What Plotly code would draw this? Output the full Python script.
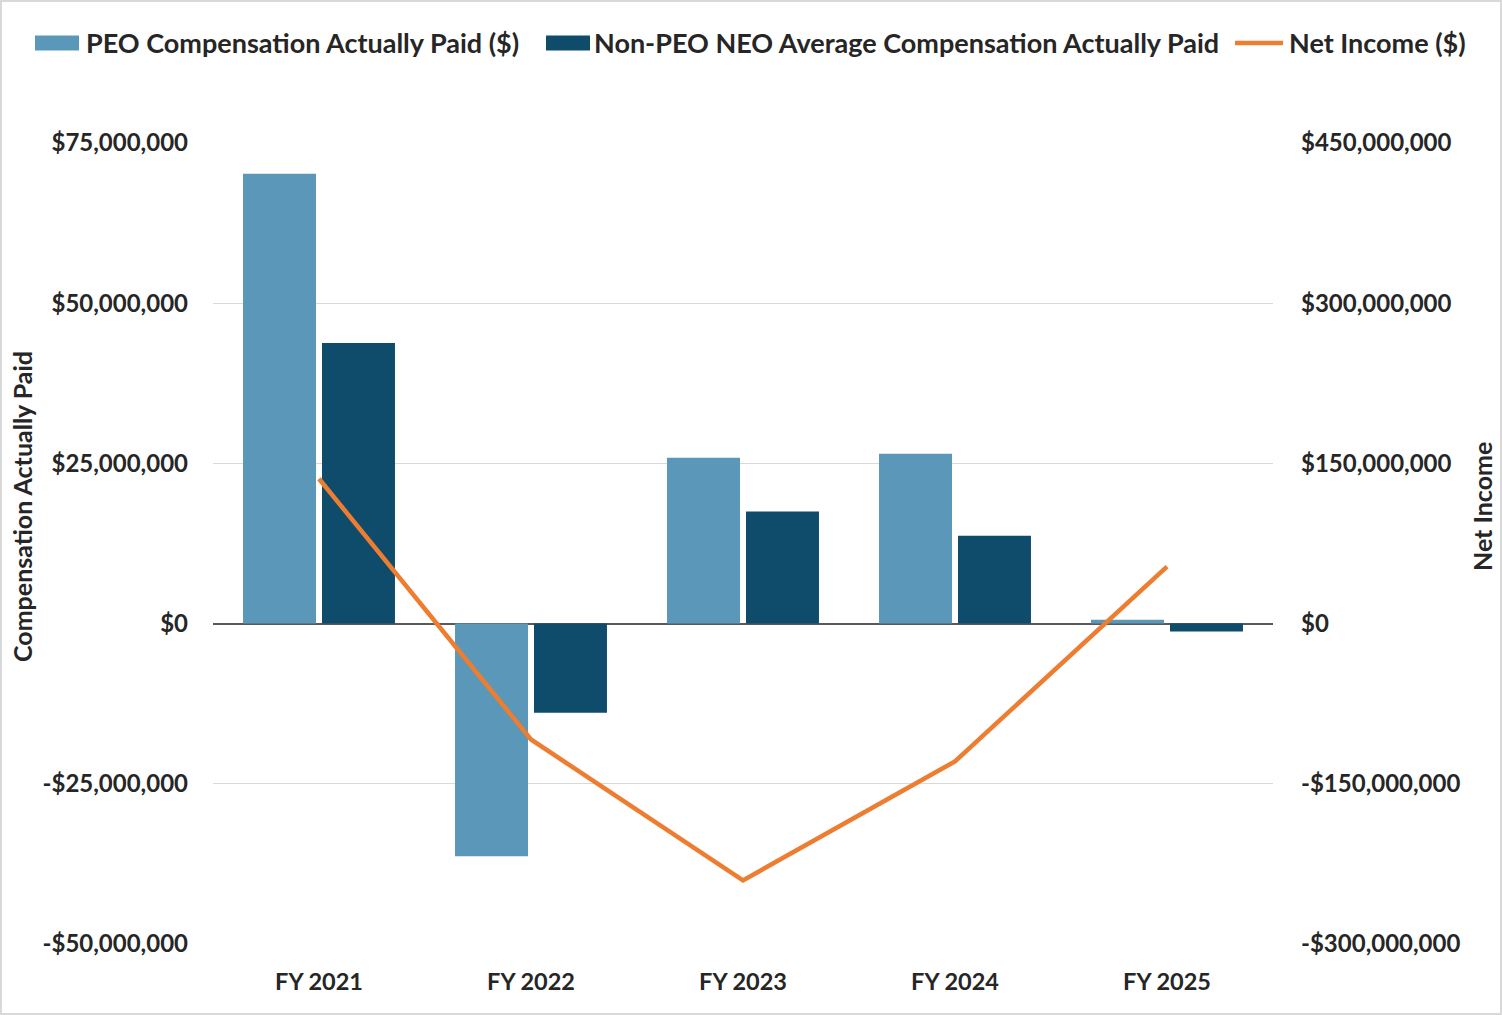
import plotly.graph_objects as go

years = ["FY 2021", "FY 2022", "FY 2023", "FY 2024", "FY 2025"]
peo_cap = [70_200_000, -36_300_000, 25_900_000, 26_500_000, 600_000]
non_peo_cap = [43_800_000, -13_900_000, 17_500_000, 13_700_000, -1_250_000]
net_income = [135_600_000, -108_500_000, -240_400_000, -129_000_000, 53_300_000]

left_ticks = [-50_000_000, -25_000_000, 0, 25_000_000, 50_000_000, 75_000_000]
left_labels = ["-$50,000,000", "-$25,000,000", "$0", "$25,000,000", "$50,000,000", "$75,000,000"]
right_ticks = [-300_000_000, -150_000_000, 0, 150_000_000, 300_000_000, 450_000_000]
right_labels = ["-$300,000,000", "-$150,000,000", "$0", "$150,000,000", "$300,000,000", "$450,000,000"]

series_names = ["PEO Compensation Actually Paid ($)",
                "Non-PEO NEO Average Compensation Actually Paid",
                "Net Income ($)"]
series_colors = ["#5B97B8", "#0F4C6B", "#ED7D31"]
left_title = "Compensation Actually Paid"
right_title = "Net Income"

FONT = "Lato"
TXT = "#262626"

fig = go.Figure()
fig.add_trace(go.Bar(x=years, y=peo_cap, name=series_names[0],
                     marker=dict(color=series_colors[0], line=dict(width=0))))
fig.add_trace(go.Bar(x=years, y=non_peo_cap, name=series_names[1],
                     marker=dict(color=series_colors[1], line=dict(width=0))))
fig.add_trace(go.Scatter(x=years, y=net_income, name=series_names[2], yaxis="y2",
                         mode="lines", line=dict(color=series_colors[2], width=4.5)))

W, H = 1502, 1015
ml, mr, mt, mb = 213, 229, 143, 71
pw, ph = W - ml - mr, H - mt - mb


def px_x(px):
    return (px - ml) / pw


def px_y(py):
    return (H - mb - py) / ph


fig.update_layout(
    width=W, height=H, autosize=False,
    margin=dict(l=ml, r=mr, t=mt, b=mb, pad=0),
    paper_bgcolor="white", plot_bgcolor="white",
    font=dict(family=FONT, color=TXT, size=20),
    barmode="group", bargap=0.255, bargroupgap=0.076,
    showlegend=False,
    xaxis=dict(showgrid=False, showline=False, ticks="",
               tickfont=dict(size=23.5, family=FONT, weight="bold"),
               ticklabelstandoff=21),
    yaxis=dict(range=[-50_000_000, 75_000_000], tickvals=left_ticks, ticktext=left_labels,
               showgrid=True, gridcolor="#D9D9D9", gridwidth=1.3,
               zeroline=True, zerolinecolor="#595959", zerolinewidth=1.5,
               tickfont=dict(size=24, family=FONT, weight="bold"), ticklabelstandoff=24),
    yaxis2=dict(range=[-300_000_000, 450_000_000], tickvals=right_ticks, ticktext=right_labels,
                overlaying="y", side="right", showgrid=False, zeroline=False,
                tickfont=dict(size=24, family=FONT, weight="bold"), ticklabelstandoff=27),
)

# axis titles (placed like the reference, slightly above the plot centre)
fig.add_annotation(text=left_title, xref="paper", yref="paper", x=px_x(22), y=px_y(507),
                   xanchor="center", yanchor="middle", textangle=-90, showarrow=False,
                   font=dict(size=25, family=FONT, weight="bold", color=TXT))
fig.add_annotation(text=right_title, xref="paper", yref="paper", x=px_x(1482), y=px_y(507),
                   xanchor="center", yanchor="middle", textangle=-90, showarrow=False,
                   font=dict(size=25, family=FONT, weight="bold", color=TXT))

# outer border of the chart
fig.add_shape(type="rect", xref="paper", yref="paper",
              x0=px_x(1), x1=px_x(W - 1), y0=px_y(H - 1), y1=px_y(1),
              line=dict(color="#D9D9D9", width=2), fillcolor="rgba(0,0,0,0)", layer="below")

# custom legend (wide swatches like the reference)
legend_y = 43
swatches = [(35, 79), (546, 590), (1235, 1283)]
text_x = [84, 592, 1287]
for i, name in enumerate(series_names):
    x0, x1 = swatches[i]
    if i < 2:
        fig.add_shape(type="rect", xref="paper", yref="paper",
                      x0=px_x(x0), x1=px_x(x1), y0=px_y(legend_y + 7.5), y1=px_y(legend_y - 7.5),
                      line=dict(width=0), fillcolor=series_colors[i])
    else:
        fig.add_shape(type="line", xref="paper", yref="paper",
                      x0=px_x(x0), x1=px_x(x1), y0=px_y(legend_y), y1=px_y(legend_y),
                      line=dict(color=series_colors[i], width=4.5))
    fig.add_annotation(text=name, xref="paper", yref="paper", x=px_x(text_x[i]), y=px_y(legend_y),
                       xanchor="left", yanchor="middle", showarrow=False,
                       font=dict(size=27, family=FONT, weight="bold", color=TXT))

fig.write_html("out.html",
               config=dict(displayModeBar=False, responsive=False),
               post_script="document.body.style.margin='0';"
                           "document.body.style.overflow='hidden';"
                           "document.documentElement.style.overflow='hidden';")
